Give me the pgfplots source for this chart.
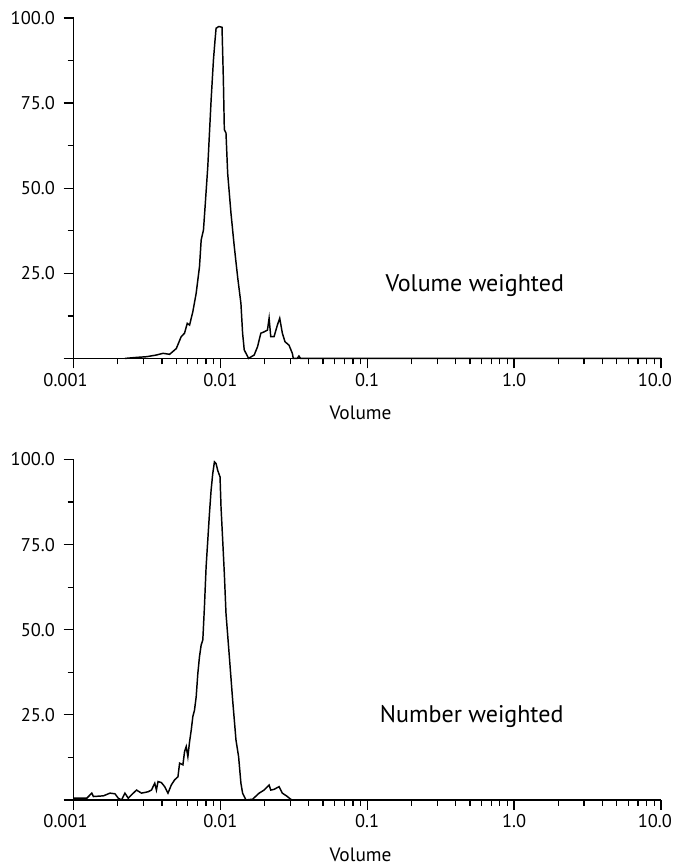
\documentclass[border=0pt]{standalone}
\usepackage{pgfplots}
\pgfplotsset{compat=1.18}
\usepackage{fontspec}
\setmainfont{PT Sans}

\begin{document}
\begin{tikzpicture}
\path[use as bounding box] (-55.1pt,-379.5pt) rectangle (449.75pt,268.5pt);
\begin{axis}[
    at={(0pt,0pt)}, anchor=south west,
    scale only axis,
    width=440pt, height=255pt,
    xmode=log, xmin=0.001, xmax=10,
    ymin=0, ymax=100,
    axis x line=bottom, axis y line=left,
    axis line style={-, line width=1.2pt, black},
    every tick/.style={black, line width=1pt},
    tick align=outside,
    major tick length=7.5pt, minor tick length=4.5pt,
    xtick={0.001,0.01,0.1,1,10},
    xticklabels={\hspace*{-12pt}0.001,0.01,0.1,1.0,\hspace*{-9pt}10.0},
    ytick={0,25,50,75,100},
    yticklabels={,25.0,50.0,75.0,100.0},
    minor ytick={12.5,37.5,62.5,87.5},
    /pgf/number format/assume math mode=true,
    tick label style={font=\fontsize{13.8pt}{15pt}\selectfont},
    yticklabel style={xshift=-3pt},
    xlabel={Volume},
    xlabel style={font=\fontsize{14.5pt}{16pt}\selectfont, at={(axis description cs:0.5,0)}, anchor=center, yshift=-41pt, xshift=-5pt},
    clip=false,
]
\addplot[black, line width=1.1pt] coordinates {
(0.00224,0) (0.00269,0.3) (0.00314,0.5) (0.00367,1.0) (0.00407,1.5) (0.00451,1.2)
(0.00501,2.9) (0.00541,6.4) (0.00570,7.4) (0.00595,10.3) (0.00617,9.8) (0.00649,13.7)
(0.00684,19.1) (0.00721,27.0) (0.00740,34.8) (0.00767,37.7) (0.00787,44.6) (0.00821,56.4)
(0.00865,76.0) (0.00897,87.7) (0.00920,93.6) (0.00935,97.0) (0.00974,97.5) (0.01026,97.3)
(0.01048,81.9) (0.01064,67.2) (0.01092,66.2) (0.01121,54.4) (0.01181,42.6) (0.01244,32.8)
(0.01310,24.0) (0.01380,16.2) (0.01417,7.4) (0.01454,2.5) (0.01556,0) (0.01699,1.0)
(0.01790,3.4) (0.01886,7.4) (0.01986,7.8) (0.02092,8.3) (0.02147,11.8) (0.02203,6.4)
(0.02321,6.4) (0.02445,9.8) (0.02536,11.8) (0.02643,7.4) (0.02755,4.9) (0.02933,3.9)
(0.03090,1.5) (0.03139,0) (0.03339,0) (0.03428,0.7) (0.03517,0) (10,0)
};
\node[font=\fontsize{18pt}{21pt}\selectfont, anchor=center] at (axis cs:0.54,21.5) {Volume weighted};
\end{axis}
\begin{axis}[
    at={(0pt,-330.75pt)}, anchor=south west,
    scale only axis,
    width=440pt, height=255pt,
    xmode=log, xmin=0.001, xmax=10,
    ymin=0, ymax=100,
    axis x line=bottom, axis y line=left,
    axis line style={-, line width=1.2pt, black},
    every tick/.style={black, line width=1pt},
    tick align=outside,
    major tick length=7.5pt, minor tick length=4.5pt,
    xtick={0.001,0.01,0.1,1,10},
    xticklabels={\hspace*{-12pt}0.001,0.01,0.1,1.0,\hspace*{-9pt}10.0},
    ytick={0,25,50,75,100},
    yticklabels={,25.0,50.0,75.0,100.0},
    minor ytick={12.5,37.5,62.5,87.5},
    /pgf/number format/assume math mode=true,
    tick label style={font=\fontsize{13.8pt}{15pt}\selectfont},
    yticklabel style={xshift=-3pt},
    xlabel={Volume},
    xlabel style={font=\fontsize{14.5pt}{16pt}\selectfont, at={(axis description cs:0.5,0)}, anchor=center, yshift=-41pt, xshift=-5pt},
    clip=false,
]
\addplot[black, line width=1.1pt] coordinates {
(0.001,0.5) (0.001231,0.5) (0.001331,2.0) (0.001366,1.0) (0.001597,1.2) (0.001771,2.0)
(0.001915,1.8) (0.002017,0.5) (0.002125,0) (0.002238,2.0) (0.002358,0.5) (0.002483,1.5)
(0.002685,2.9) (0.002903,2.0) (0.003221,2.4) (0.003393,2.9) (0.003573,4.9) (0.003667,2.9)
(0.003764,5.4) (0.003965,5.1) (0.004176,3.9) (0.004398,2.0) (0.004634,4.4) (0.004880,5.9)
(0.005141,6.8) (0.005276,10.8) (0.005557,10.3) (0.005703,14.2) (0.005853,15.7) (0.006007,12.7)
(0.006169,17.1) (0.006331,20.5) (0.006494,24.5) (0.006665,26.4) (0.006843,30.3) (0.007023,37.2)
(0.007208,42.1) (0.007398,45.5) (0.007593,47.0) (0.007790,56.8) (0.007996,68.5) (0.008208,76.3)
(0.008424,84.1) (0.008646,91.0) (0.008874,95.9) (0.009108,99.3) (0.009348,98.8) (0.009592,96.8)
(0.009947,94.9) (0.01010,86.1) (0.01037,76.3) (0.01064,66.5) (0.01092,54.8) (0.01151,42.1)
(0.01212,29.4) (0.01277,17.6) (0.01331,12.7) (0.01380,4.9) (0.01417,2.0) (0.01493,0)
(0.01656,0.2) (0.01837,2.0) (0.01986,2.9) (0.02092,3.9) (0.02147,4.4) (0.02203,2.9)
(0.02321,3.1) (0.02509,3.9) (0.02643,2.0) (0.02858,1.0) (0.03010,0.2) (0.03090,0) (10,0)
};
\node[font=\fontsize{18pt}{21pt}\selectfont, anchor=center] at (axis cs:0.515,24.6) {Number weighted};
\end{axis}
\end{tikzpicture}
\end{document}
